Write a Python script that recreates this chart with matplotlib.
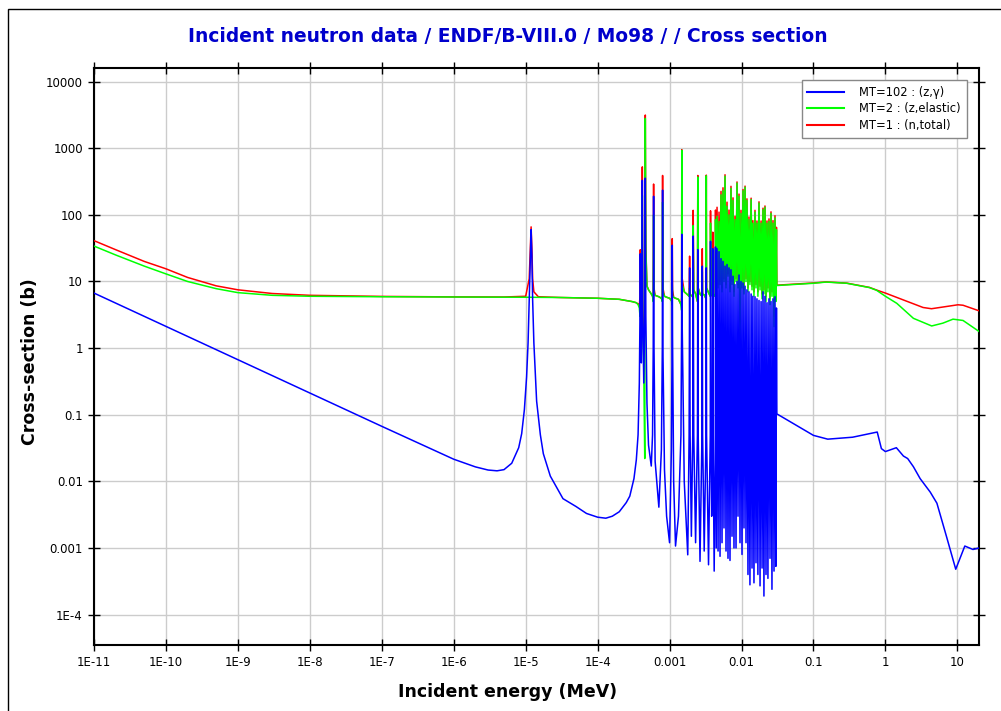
import matplotlib.pyplot as plt
from matplotlib.patches import Rectangle
from matplotlib.lines import Line2D

# ---- data (energies in MeV, cross sections in barns) ----
# low-energy smooth part (before the resolved resonances)
cap_lo_e = [1e-11, 1e-10, 1e-9, 1e-8, 1e-7, 1e-6, 2e-6, 3e-6, 4e-6, 5e-6, 6.4e-6, 8e-6,
            8.8e-6, 9.6e-6, 1.03e-5, 1.08e-5, 1.12e-5, 1.16e-5, 1.19e-5, 1.22e-5, 1.25e-5,
            1.3e-5, 1.42e-5, 1.6e-5, 1.76e-5, 2.2e-5, 3.3e-5, 5e-5, 7e-5, 1e-4, 1.3e-4,
            1.6e-4, 2e-4, 2.5e-4, 2.8e-4, 3.2e-4]
cap_lo = [6.7, 2.12, 0.67, 0.212, 0.067, 0.0215, 0.0165, 0.0148, 0.0144, 0.015, 0.0187, 0.032,
          0.052, 0.12, 0.37, 1.2, 5.3, 25, 60, 25, 5.3,
          1.2, 0.16, 0.05, 0.026, 0.012, 0.0055, 0.0042, 0.0033, 0.0029, 0.0028,
          0.003, 0.0035, 0.0048, 0.006, 0.011]

el_lo_e = [1e-11, 2e-11, 5e-11, 1e-10, 2e-10, 5e-10, 1e-9, 3e-9, 1e-8, 1e-7, 1e-6, 1e-5,
           3e-5, 1e-4, 2e-4, 3e-4]
el_lo = [34, 25, 17, 13, 10, 7.8, 6.8, 6.2, 6.0, 5.9, 5.85, 5.8,
         5.75, 5.6, 5.4, 5.0]

tot_lo_e = [1e-11, 2e-11, 5e-11, 1e-10, 2e-10, 5e-10, 1e-9, 3e-9, 1e-8, 1e-7, 1e-6, 5e-6,
            1e-5, 1.12e-5, 1.16e-5, 1.19e-5, 1.22e-5, 1.25e-5, 1.3e-5, 1.5e-5, 3e-5, 1e-4,
            2e-4, 3e-4]
tot_lo = [41, 30, 20, 15.5, 11.5, 8.6, 7.5, 6.6, 6.2, 5.97, 5.87, 5.85,
          6.0, 11, 31, 66, 31, 11, 7, 5.9, 5.75, 5.6,
          5.4, 5.0]

# resonance region, common energy grid
res_e = [3.45e-4, 3.65e-4, 3.8e-4, 3.88e-4, 3.92e-4, 3.97e-4, 4.05e-4, 4.13e-4, 4.18e-4, 4.24e-4,
         4.38e-4, 4.52e-4, 4.6e-4, 4.68e-4, 4.85e-4, 5.1e-4, 5.57e-4, 5.8e-4, 5.93e-4, 6.0e-4,
         6.08e-4, 6.3e-4, 7.1e-4, 7.7e-4, 7.93e-4, 8.0e-4, 8.08e-4, 8.5e-4, 9.1e-4, 1.0e-3,
         1.06e-3, 1.085e-3, 1.09e-3, 1.1e-3, 1.14e-3, 1.21e-3, 1.33e-3, 1.44e-3, 1.47e-3, 1.48e-3,
         1.5e-3, 1.6e-3, 1.79e-3, 1.87e-3, 1.9e-3, 1.93e-3, 2.01e-3, 2.1e-3, 2.13e-3, 2.17e-3,
         2.3e-3, 2.44e-3, 2.47e-3, 2.5e-3, 2.65e-3, 2.82e-3, 2.85e-3, 2.88e-3, 3.03e-3, 3.21e-3,
         3.24e-3, 3.27e-3, 3.48e-3, 3.68e-3, 3.71e-3, 3.78e-3, 3.85e-3, 3.95e-3, 3.99e-3, 4.05e-3,
         4.17e-3, 4.32e-3, 4.35e-3, 4.45e-3,
         4.57e-3, 4.72e-3, 4.87e-3, 5.03e-3, 5.19e-3, 5.36e-3, 5.53e-3, 5.71e-3, 5.9e-3, 6.09e-3,
         6.29e-3, 6.49e-3, 6.7e-3, 6.92e-3, 7.14e-3, 7.38e-3, 7.62e-3, 7.86e-3, 8.12e-3, 8.39e-3,
         8.66e-3, 8.94e-3, 9.23e-3, 9.53e-3, 9.84e-3, 1.016e-2, 1.05e-2, 1.083e-2, 1.12e-2, 1.155e-2,
         1.19e-2, 1.23e-2, 1.27e-2, 1.31e-2, 1.36e-2, 1.4e-2, 1.44e-2, 1.49e-2, 1.54e-2, 1.59e-2,
         1.64e-2, 1.69e-2, 1.75e-2, 1.81e-2, 1.87e-2, 1.93e-2, 1.99e-2, 2.05e-2, 2.12e-2, 2.19e-2,
         2.26e-2, 2.33e-2, 2.41e-2, 2.49e-2, 2.57e-2, 2.65e-2, 2.74e-2, 2.83e-2, 2.92e-2, 3.0e-2,
         3.06e-2]
res_cap = [0.021, 0.05, 0.3, 3.0, 26, 3.0, 0.6, 4.0, 330, 4.0,
           0.3, 3.0, 355, 3.0, 0.15, 0.035, 0.017, 0.05, 1.0, 190,
           1.0, 0.02, 0.0041, 0.03, 1.0, 235, 1.0, 0.015, 0.003, 0.0012,
           0.03, 1.5, 35, 1.5, 0.01, 0.00107, 0.003, 0.05, 2.0, 51,
           2.0, 0.01, 0.00079, 0.05, 16, 0.05, 0.0015, 0.05, 48, 0.05,
           0.0012, 0.05, 30, 0.05, 0.00063, 0.05, 17, 0.05, 0.0009, 0.05,
           16, 0.05, 0.00056, 0.05, 40, 0.03, 0.003, 0.05, 31, 0.02,
           0.00045, 0.05, 33, 0.001,
           31, 0.0009, 28, 0.00075, 22, 0.0012, 20, 0.002, 17, 0.0009,
           18, 0.0007, 16, 0.00065, 15, 0.0015, 12, 0.001, 9, 0.001,
           10, 0.003, 12.5, 0.0012, 10, 0.0008, 9.5, 0.002, 8.5, 0.0012,
           7.5, 0.0004, 7, 0.00028, 6.5, 0.0005, 6, 0.0003, 5.9, 0.0006,
           5.5, 0.0004, 5.2, 0.00027, 5, 0.0005, 7, 0.00019, 6, 0.0004,
           4.8, 0.00035, 5.5, 0.0007, 5, 0.00024, 5.5, 0.00045, 5.9, 0.00053,
           4]
res_el = [4.8, 4.5, 4.0, 3.0, 4.0, 3.5, 3.0, 3.5, 195, 2.0,
          0.5, 0.022, 2800, 30, 8.5, 7.5, 6.5, 6.0, 5.0, 100,
          7.0, 6.2, 5.9, 5.6, 5.0, 155, 7.0, 6.0, 5.8, 5.6,
          5.2, 4.5, 9, 6.0, 5.8, 5.6, 5.4, 4.5, 3.7, 930,
          9, 7.0, 6.3, 6.0, 8, 6.3, 6.2, 5.8, 69, 7.5,
          6.5, 5.0, 370, 8, 6.5, 6.0, 14, 6.5, 6.3, 5.5,
          385, 8, 6.8, 6.0, 75, 7.0, 6.5, 6.0, 24, 6.5,
          6.2, 6.0, 85, 7.0,
          95, 8, 80, 9, 200, 7, 230, 10, 380, 8,
          135, 12, 100, 7, 250, 9, 165, 6, 85, 10,
          300, 8, 190, 1.3, 105, 8, 230, 6.5, 260, 10,
          165, 7, 85, 9, 170, 7.5, 75, 6, 110, 8,
          75, 6, 150, 7.5, 75, 5.5, 120, 6.5, 130, 5,
          75, 7, 80, 4.5, 105, 6, 75, 2.1, 90, 5,
          60]
res_tot = [4.8, 4.6, 4.3, 6.0, 30, 6.5, 3.6, 7.5, 525, 6.0,
           0.8, 3.0, 3150, 33, 8.6, 7.5, 6.5, 6.0, 6.0, 290,
           8.0, 6.2, 5.9, 5.6, 6.0, 390, 8.0, 6.0, 5.8, 5.6,
           5.2, 6.0, 44, 7.5, 5.8, 5.6, 5.4, 4.5, 5.7, 950,
           11, 7.0, 6.3, 6.0, 24, 6.3, 6.2, 5.9, 117, 7.5,
           6.5, 5.0, 390, 8, 6.5, 6.0, 31, 6.5, 6.3, 5.5,
           395, 8, 6.8, 6.0, 115, 7.0, 6.5, 6.0, 55, 6.5,
           6.2, 6.0, 118, 7.0,
           130, 9, 110, 10, 225, 8, 255, 11, 400, 9,
           155, 13, 118, 8, 268, 10, 180, 7, 95, 11,
           312, 9, 205, 2.5, 117, 9, 240, 7.5, 270, 11,
           174, 8, 93, 10, 178, 8.5, 82, 7, 117, 9,
           81, 7, 157, 8.5, 81, 6.5, 126, 7.5, 136, 6,
           81, 8, 87, 5.5, 111, 7, 82, 3, 97, 6,
           65]

# high-energy smooth part
cap_hi_e = [3.1e-2, 0.1, 0.158, 0.35, 0.77, 0.88, 1.0, 1.42, 1.78, 2.04, 2.45, 3.04, 4.2, 5.2,
            7.1, 9.5, 12.7, 16.5, 20]
cap_hi = [0.103, 0.049, 0.043, 0.046, 0.055, 0.031, 0.028, 0.032, 0.024, 0.022, 0.0166, 0.011,
          0.0069, 0.0047, 0.00146, 0.00048, 0.00107, 0.00095, 0.001]
el_hi_e = [3.1e-2, 0.1, 0.15, 0.29, 0.6, 0.75, 1.0, 1.44, 2.45, 4.4, 6.3, 8.7, 12, 20]
el_hi = [8.7, 9.4, 9.8, 9.4, 8.1, 7.4, 6.0, 4.7, 2.8, 2.15, 2.37, 2.72, 2.6, 1.78]
tot_hi_e = [3.1e-2, 0.1, 0.15, 0.29, 0.6, 0.75, 1.0, 1.76, 3.34, 4.37, 10.2, 12, 20]
tot_hi = [8.8, 9.5, 9.85, 9.45, 8.15, 7.45, 6.7, 5.3, 4.07, 3.9, 4.47, 4.4, 3.63]

x_ticks = [1e-11, 1e-10, 1e-9, 1e-8, 1e-7, 1e-6, 1e-5, 1e-4, 1e-3, 1e-2, 1e-1, 1, 10]
x_labels = ['1E-11', '1E-10', '1E-9', '1E-8', '1E-7', '1E-6', '1E-5', '1E-4',
            '0.001', '0.01', '0.1', '1', '10']
y_ticks = [1e-4, 1e-3, 1e-2, 1e-1, 1, 10, 100, 1000, 10000]
y_labels = ['1E-4', '0.001', '0.01', '0.1', '1', '10', '100', '1000', '10000']

labels = ['MT=102 : (z,γ)', 'MT=2 : (z,elastic)', 'MT=1 : (n,total)']
colors = ['#0000ff', '#00ff00', '#ff0000']

fig = plt.figure(figsize=(10.01, 7.11), dpi=100)
ax = fig.add_axes([94 / 1001, 1 - 645 / 711, 885 / 1001, 577 / 711])

tot_e = tot_lo_e + res_e + tot_hi_e
tot = tot_lo + res_tot + tot_hi
el_e = el_lo_e + res_e + el_hi_e
el = el_lo + res_el + el_hi
cap_e = cap_lo_e + res_e + cap_hi_e
cap = cap_lo + res_cap + cap_hi

lw = 1.1
ax.plot(tot_e, tot, color=colors[2], lw=lw, zorder=3)
ax.plot(el_e, el, color=colors[1], lw=lw, zorder=4)
ax.plot(cap_e, cap, color=colors[0], lw=lw, zorder=5)

ax.set_xscale('log')
ax.set_yscale('log')
ax.set_xlim(1e-11, 20)
ax.set_ylim(3.5e-5, 1.6e4)
ax.set_xticks(x_ticks)
ax.set_xticklabels(x_labels)
ax.set_yticks(y_ticks)
ax.set_yticklabels(y_labels)
ax.minorticks_off()
ax.tick_params(which='major', direction='inout', length=8, width=1,
               top=True, right=True, labelsize=8.5, pad=4)
ax.grid(True, color='#cccccc', lw=1, zorder=0)
ax.set_axisbelow(True)
for s in ax.spines.values():
    s.set_linewidth(1.5)

handles = [Line2D([], [], color=c, lw=1.5) for c in colors]
leg = ax.legend(handles, labels, loc='upper right', bbox_to_anchor=(0.986, 0.979),
                borderaxespad=0, fontsize=8.3, fancybox=False, framealpha=1,
                edgecolor='#888888', handlelength=3.2, borderpad=0.5, labelspacing=0.3,
                handletextpad=1.3)
leg.get_frame().set_linewidth(1)

fig.text(508 / 1001, 1 - 37 / 711, 'Incident neutron data / ENDF/B-VIII.0 / Mo98 / / Cross section',
         ha='center', va='center', fontsize=13.4, fontweight='bold', color='#0000cc')
fig.text(508 / 1001, 1 - 692 / 711, 'Incident energy (MeV)', ha='center', va='center',
         fontsize=12.5, fontweight='bold')
fig.text(30 / 1001, 1 - 362 / 711, 'Cross-section (b)', ha='center', va='center',
         rotation=90, fontsize=12.5, fontweight='bold')

fig.patches.append(Rectangle((8 / 1001, -0.1), 1.2, 1.1 - 9 / 711, transform=fig.transFigure,
                             fill=False, edgecolor='black', lw=1))

fig.savefig('out.png', dpi=100)
